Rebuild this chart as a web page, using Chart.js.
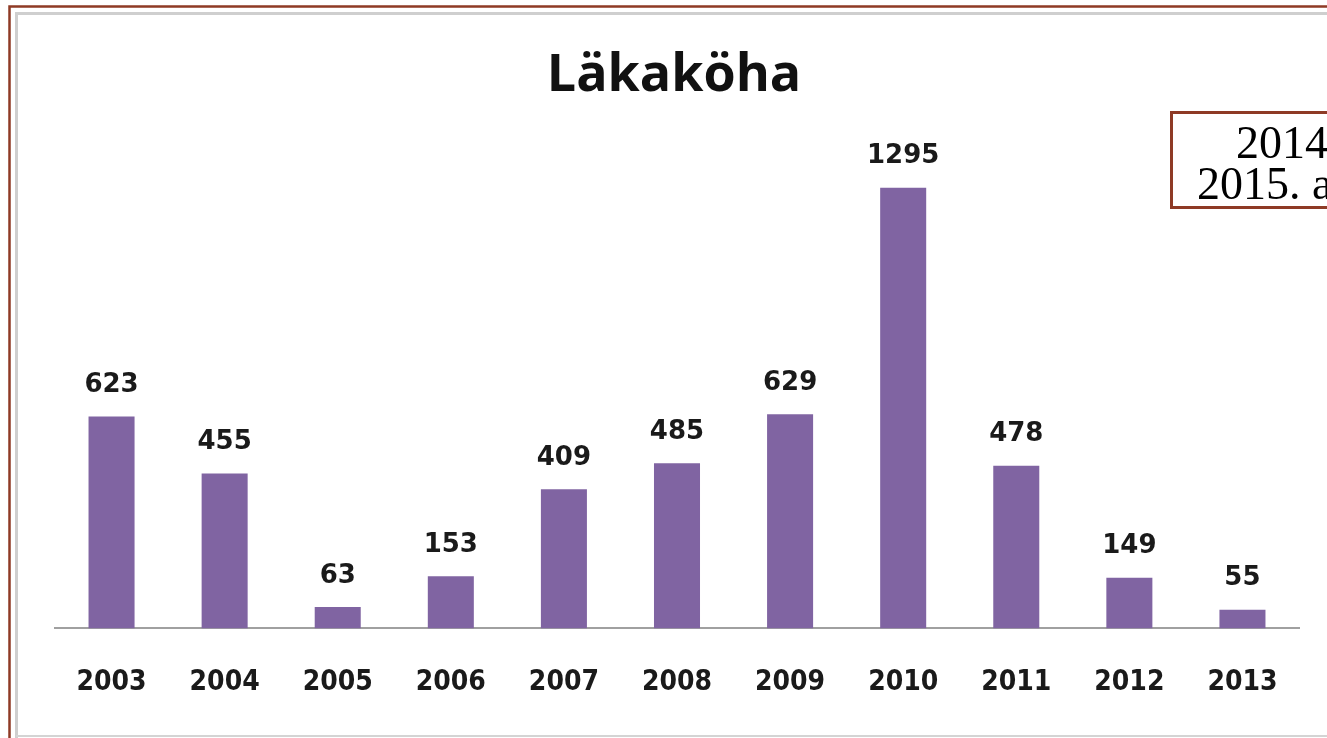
<!DOCTYPE html>
<html>
<head>
<meta charset="utf-8">
<script src="https://cdn.jsdelivr.net/npm/chart.js@4.4.1/dist/chart.umd.min.js"></script>
<style>
  html, body { margin: 0; padding: 0; background: #ffffff; }
  #wrap { position: relative; width: 1327px; height: 738px; }
  canvas { display: block; }
</style>
</head>
<body>
<div id="wrap"><canvas id="c" width="1327" height="738"></canvas></div>
<script>
// Yearly counts
const years = ['2003', '2004', '2005', '2006', '2007', '2008', '2009', '2010', '2011', '2012', '2013'];
const cases = [623, 455, 63, 153, 409, 485, 629, 1295, 478, 149, 55];
const chartTitle = 'Läkaköha';
const noteLines = ['2014', '2015. a'];

// Page frame: brown outer rule plus a soft grey inner border
const framePlugin = {
  id: 'frame',
  beforeDraw(chart) {
    const ctx = chart.ctx;
    ctx.save();
    ctx.fillStyle = '#ffffff';
    ctx.fillRect(0, 0, chart.width, chart.height);
    // grey inner border
    ctx.strokeStyle = '#cfcfcf';
    ctx.lineWidth = 3;
    ctx.beginPath();
    ctx.moveTo(16.5, 738);
    ctx.lineTo(16.5, 13.5);
    ctx.lineTo(1327, 13.5);
    ctx.stroke();
    ctx.strokeStyle = '#d4d4d4';
    ctx.lineWidth = 2;
    ctx.beginPath();
    ctx.moveTo(16, 736);
    ctx.lineTo(1327, 736);
    ctx.stroke();
    // brown rule
    ctx.strokeStyle = '#8e3a25';
    ctx.lineWidth = 2.5;
    ctx.beginPath();
    ctx.moveTo(9.5, 738);
    ctx.lineTo(9.5, 6.5);
    ctx.lineTo(1327, 6.5);
    ctx.stroke();
    ctx.restore();
  },
  afterDraw(chart) {
    const ctx = chart.ctx;
    ctx.save();
    // title
    ctx.fillStyle = '#111111';
    ctx.font = 'bold 52px "Open Sans", sans-serif';
    ctx.textAlign = 'center';
    ctx.textBaseline = 'middle';
    ctx.fillText(chartTitle, 674, 76);
    // note box, running off the right edge
    ctx.fillStyle = '#ffffff';
    ctx.fillRect(1171, 112, 200, 95);
    ctx.strokeStyle = '#8e3a25';
    ctx.lineWidth = 3;
    ctx.strokeRect(1171.5, 112.5, 200, 95);
    ctx.fillStyle = '#000000';
    ctx.font = '46px "Liberation Serif", serif';
    ctx.textAlign = 'left';
    ctx.textBaseline = 'alphabetic';
    ctx.fillText(noteLines[0], 1236, 158);
    ctx.fillText(noteLines[1], 1197, 199);
    ctx.restore();
  }
};

// Value labels above each bar
const valueLabels = {
  id: 'valueLabels',
  afterDatasetsDraw(chart) {
    const ctx = chart.ctx;
    const meta = chart.getDatasetMeta(0);
    const data = chart.data.datasets[0].data;
    ctx.save();
    ctx.fillStyle = '#1a1a1a';
    ctx.font = 'bold 26px "DejaVu Sans", sans-serif';
    ctx.textAlign = 'center';
    ctx.textBaseline = 'middle';
    meta.data.forEach((bar, i) => {
      ctx.fillText(String(data[i]), bar.x, bar.y - 31);
    });
    ctx.restore();
  }
};

new Chart(document.getElementById('c'), {
  type: 'bar',
  data: {
    labels: years,
    datasets: [{
      data: cases,
      backgroundColor: '#8064a2',
      borderWidth: 0,
      categoryPercentage: 1,
      barPercentage: 0.407
    }]
  },
  options: {
    responsive: false,
    animation: false,
    layout: { padding: { left: 55, right: 28, top: 152, bottom: 0 } },
    plugins: {
      legend: { display: false },
      title: { display: false },
      tooltip: { enabled: false }
    },
    scales: {
      x: {
        grid: { display: false, drawTicks: false },
        border: { display: true, color: '#a0a0a0', width: 2 },
        ticks: {
          color: '#1a1a1a',
          padding: 38,
          font: { family: '"DejaVu Sans Condensed", "DejaVu Sans", sans-serif', size: 28, weight: 'bold' }
        }
      },
      y: {
        display: false,
        min: 0,
        max: 1400
      }
    }
  },
  plugins: [framePlugin, valueLabels]
});
</script>
</body>
</html>
